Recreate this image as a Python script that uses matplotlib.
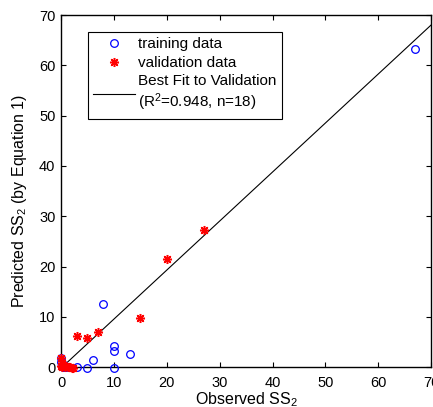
import numpy as np
import matplotlib
matplotlib.use("Agg")
from matplotlib import pyplot as plt

plt.rcParams['font.family'] = ['Liberation Sans', 'DejaVu Sans']
plt.rcParams['mathtext.fontset'] = 'custom'
plt.rcParams['mathtext.rm'] = 'Liberation Sans'
plt.rcParams['mathtext.it'] = 'Liberation Sans'
plt.rcParams['font.size'] = 10.5

# training data (blue circles)
train_obs = [67, 8, 10, 10, 13, 6, 3, 5, 10, 0, 0, 0.6, 0.3, 1.0]
train_pred = [63.3, 12.5, 4.1, 3.2, 2.6, 1.5, 0, -0.2, -0.2, 1.9, 1.0, 0.4, 0.1, 0.0]

# validation data (red asterisks), n=18
val_obs = [27, 20, 15, 3, 5, 7, 0, 0, 0.2, 0.5, 0.8, 1.0, 1.3, 1.7, 2.0, 2.3, 0.1, 0.4]
val_pred = [27.2, 21.5, 9.8, 6.2, 5.8, 6.9, 1.8, 0.3, 0.0, 0.2, 0.1, 0.3, 0.0, 0.1, -0.1, -0.2, 0.8, 0.5]

# best fit line to validation
fit_slope = 0.975
fit_icpt = -0.2
fit_x = [0, 70]

fig = plt.figure(figsize=(4.33, 4.07), dpi=100)
ax = fig.add_axes([0.141, 0.098, 0.855, 0.865])

ax.plot(train_obs, train_pred, 'o', mfc='none', mec='b', ms=5.5, mew=0.9,
        clip_on=False, zorder=3, label='training data')
ax.plot(val_obs, val_pred, ls='none', marker=(8, 2, 0), color='r', ms=6.5,
        mew=1.1, clip_on=False, zorder=3, label='validation data')
ax.plot(fit_x, [fit_slope * x + fit_icpt for x in fit_x], 'k-', lw=0.8,
        label='Best Fit to Validation\n(R$^2$=0.948, n=18)')

ax.set_xlim(0, 70)
ax.set_ylim(0, 70)
ax.set_xticks(np.arange(0, 71, 10))
ax.set_yticks(np.arange(0, 71, 10))
ax.tick_params(direction='in', top=True, right=True, length=3.5, width=0.8)
ax.tick_params(axis='x', pad=6.5)
ax.tick_params(axis='y', pad=4)
for sp in ax.spines.values():
    sp.set_linewidth(1.0)

ax.set_xlabel('Observed SS$_2$', fontsize=11.5, labelpad=0)
ax.set_ylabel('Predicted SS$_2$ (by Equation 1)', fontsize=11.5)
ax.yaxis.set_label_coords(-0.086, 0.472)

leg = ax.legend(loc='upper left', bbox_to_anchor=(0.073, 0.952), numpoints=1,
                fancybox=False, edgecolor='k', framealpha=1, handlelength=2.7,
                handletextpad=0.25, borderpad=0.35, labelspacing=0.3,
                borderaxespad=0, fontsize=11)
leg.get_frame().set_linewidth(0.8)

fig.savefig('out.png', dpi=100)
